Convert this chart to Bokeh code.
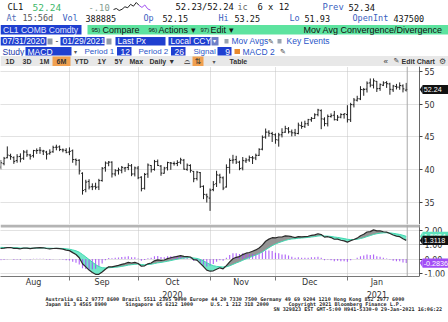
import numpy as np
import pandas as pd
from bokeh.plotting import figure
from bokeh.layouts import column
from bokeh.models import (Range1d, FixedTicker, Label, ColumnDataSource, Span, BoxAnnotation,
                          PolyAnnotation, NumeralTickFormatter)
from bokeh.core.properties import value
from bokeh.embed import file_html
from bokeh.resources import INLINE

# ---------------- data ----------------
holidays = ["2020-09-07", "2020-11-26", "2020-12-25", "2021-01-01", "2021-01-18"]
dates = pd.bdate_range("2020-07-31", "2021-01-29").drop(pd.to_datetime(holidays))

opens = [39.95,
 40.35, 40.88, 41.78, 42.10, 41.80, 41.36, 41.98, 41.70, 42.65, 42.20, 42.10, 42.85, 42.95, 42.80, 42.65, 42.40, 42.70, 43.40, 43.45, 43.00, 42.90,
 42.65, 42.85, 41.50, 41.40, 39.40, 36.90, 38.15, 37.35, 37.40, 37.30, 38.30, 40.25, 40.95, 41.10, 39.30, 39.80, 39.85, 40.20, 40.30, 40.55, 39.30,
 40.20, 38.80, 37.10, 39.30, 40.60, 40.00, 41.20, 40.50, 39.40, 40.25, 41.00, 40.90, 40.90, 41.10, 41.40, 40.00, 40.60, 39.70, 38.60, 39.50, 37.40, 36.10,
 35.60, 36.90, 37.80, 39.10, 38.70, 37.30, 40.30, 41.40, 41.50, 41.10, 40.20, 41.30, 41.45, 41.80, 41.75, 42.15, 43.10, 44.95, 45.70, 45.50,
 45.30, 44.50, 45.30, 45.70, 46.20, 45.75, 45.60, 45.50, 46.70, 46.60, 47.00, 47.60, 47.80, 48.40, 49.00, 47.70, 47.00, 48.10, 48.30, 47.60, 48.00, 48.40,
 48.40, 47.60, 49.90, 50.60, 50.80, 52.20, 52.30, 53.25, 52.90, 53.50, 52.40, 52.90, 53.30, 53.10, 52.20, 52.70, 52.60, 52.80, 52.15]
highs = [40.40,
 41.44, 41.91, 43.52, 42.40, 41.99, 42.33, 42.45, 42.95, 43.00, 42.37, 42.99, 43.21, 43.43, 42.99, 42.84, 43.07, 43.63, 43.78, 43.67, 43.20, 43.24,
 43.37, 43.04, 41.67, 41.55, 39.55, 38.41, 38.49, 37.86, 37.95, 38.55, 40.36, 41.21, 41.28, 41.24, 40.03, 40.27, 40.52, 40.37, 40.95, 40.82, 40.43,
 40.51, 38.95, 39.45, 40.91, 40.65, 41.45, 41.51, 40.66, 40.39, 41.17, 41.13, 41.20, 41.40, 41.78, 41.60, 40.90, 40.78, 39.75, 39.77, 39.60, 37.55, 36.28,
 37.07, 38.20, 39.78, 39.33, 38.92, 40.77, 41.68, 42.23, 42.08, 41.32, 41.89, 41.76, 42.12, 42.05, 42.41, 43.24, 45.20, 46.26, 46.00, 45.75,
 45.52, 45.60, 46.30, 46.68, 46.48, 46.10, 46.20, 47.16, 47.31, 47.46, 47.74, 48.03, 48.59, 49.28, 49.20, 47.98, 48.41, 48.58, 48.96, 48.34, 48.60, 48.58,
 49.83, 50.20, 50.94, 51.28, 52.75, 52.48, 53.48, 53.93, 53.94, 53.54, 53.17, 53.50, 53.52, 53.28, 52.95, 53.10, 53.33, 53.03, 53.25]
lows = [39.52,
 40.00, 40.62, 41.70, 41.47, 40.85, 41.02, 41.08, 41.45, 41.92, 41.50, 41.80, 42.37, 42.39, 42.20, 41.51, 42.26, 42.55, 42.92, 42.80, 42.62, 42.46,
 42.18, 41.01, 40.60, 39.21, 36.13, 36.49, 36.93, 36.82, 36.90, 36.83, 38.11, 39.65, 40.48, 38.75, 38.95, 39.20, 39.40, 39.62, 39.88, 38.96, 38.92,
 38.50, 36.63, 36.90, 38.70, 39.52, 39.80, 40.51, 39.02, 39.35, 39.83, 39.93, 40.58, 40.50, 40.80, 39.95, 39.78, 39.50, 38.03, 38.30, 37.15, 35.44, 34.92,
 33.64, 36.65, 37.30, 37.86, 36.82, 37.21, 39.35, 40.88, 40.82, 39.87, 39.85, 40.98, 41.16, 40.82, 41.42, 42.06, 42.92, 44.70, 45.01, 44.20,
 43.93, 43.48, 44.90, 45.60, 45.50, 45.06, 45.10, 45.37, 46.22, 46.35, 46.65, 47.29, 47.73, 48.13, 46.16, 46.61, 46.58, 47.93, 47.50, 47.42, 47.83, 47.78,
 47.18, 47.26, 49.49, 50.40, 50.62, 51.28, 51.78, 52.58, 52.40, 51.86, 52.04, 52.77, 52.49, 51.44, 51.87, 52.25, 52.20, 51.80, 51.93]
closes = [40.27,
 41.01, 41.70, 42.19, 41.95, 41.22, 41.94, 41.61, 42.67, 42.24, 42.01, 42.89, 42.89, 42.93, 42.82, 42.34, 42.62, 43.35, 43.39, 43.04, 42.97, 42.61,
 42.76, 41.51, 41.37, 39.77, 36.76, 38.05, 37.30, 37.33, 37.26, 38.28, 40.16, 40.97, 41.11, 39.31, 39.80, 39.93, 40.31, 40.25, 40.60, 39.29, 40.22,
 38.72, 37.05, 39.22, 40.67, 39.95, 41.19, 40.60, 39.43, 40.20, 41.04, 40.96, 40.88, 41.06, 41.46, 40.03, 40.64, 39.85, 38.56, 39.57, 37.39, 36.17, 35.79,
 36.81, 37.66, 39.15, 38.79, 37.14, 40.29, 41.36, 41.45, 41.12, 40.13, 41.34, 41.43, 41.82, 41.74, 42.15, 43.06, 44.91, 45.71, 45.53, 45.34,
 44.55, 45.28, 45.64, 46.26, 45.76, 45.60, 45.52, 46.78, 46.57, 46.99, 47.62, 47.82, 48.36, 49.10, 47.74, 47.02, 48.12, 48.23, 47.62, 48.00, 48.40, 48.52,
 47.62, 49.93, 50.63, 50.83, 52.24, 52.25, 53.21, 52.91, 53.57, 52.36, 52.98, 53.24, 53.13, 52.27, 52.77, 52.61, 52.85, 52.34, 52.24]

macd = [0.77, 0.74, 0.76, 0.80, 0.81, 0.75, 0.75, 0.72, 0.77, 0.76, 0.73, 0.77, 0.79, 0.80, 0.79, 0.74, 0.71, 0.74, 0.75, 0.73,
 0.70, 0.63, 0.59, 0.45, 0.32, 0.09, -0.33, -0.55, -0.78, -0.95, -1.08, -1.08, -0.92, -0.72, -0.55, -0.55, -0.50, -0.45, -0.38, -0.32,
 -0.24, -0.28, -0.24, -0.32, -0.51, -0.48, -0.34, -0.28, -0.13, -0.06, -0.10, -0.07, 0.03, 0.09, 0.14, 0.19, 0.24, 0.19, 0.17, 0.14,
 -0.05, -0.08, -0.31, -0.53, -0.78, -0.86, -0.83, -0.72, -0.62, -0.69, -0.47, -0.20, 0.02, 0.12, 0.17, 0.31, 0.41, 0.46, 0.55, 0.64,
 0.78, 0.98, 1.25, 1.40, 1.50, 1.49, 1.55, 1.55, 1.63, 1.61, 1.57, 1.51, 1.58, 1.56, 1.58, 1.60, 1.67, 1.70, 1.78, 1.72,
 1.54, 1.57, 1.51, 1.39, 1.40, 1.32, 1.28, 1.19, 1.29, 1.37, 1.47, 1.64, 1.74, 1.90, 1.93, 2.05, 1.98, 1.98, 1.92, 1.89,
 1.80, 1.69, 1.61, 1.57, 1.43, 1.3118]
signal = [0.84, 0.82, 0.81, 0.81, 0.81, 0.80, 0.79, 0.77, 0.77, 0.77, 0.76, 0.76, 0.77, 0.78, 0.78, 0.77, 0.76, 0.75, 0.75, 0.75,
 0.74, 0.72, 0.69, 0.64, 0.58, 0.48, 0.32, 0.15, -0.04, -0.22, -0.39, -0.53, -0.61, -0.63, -0.62, -0.60, -0.58, -0.56, -0.52, -0.48,
 -0.43, -0.40, -0.37, -0.36, -0.39, -0.41, -0.39, -0.37, -0.32, -0.27, -0.24, -0.20, -0.16, -0.11, -0.06, -0.01, 0.04, 0.07, 0.09, 0.10,
 0.07, 0.04, -0.03, -0.13, -0.26, -0.38, -0.47, -0.52, -0.54, -0.57, -0.55, -0.48, -0.38, -0.28, -0.19, -0.09, 0.01, 0.10, 0.19, 0.28,
 0.38, 0.50, 0.65, 0.80, 0.94, 1.05, 1.15, 1.23, 1.31, 1.37, 1.41, 1.43, 1.46, 1.48, 1.50, 1.52, 1.55, 1.58, 1.62, 1.64,
 1.62, 1.61, 1.59, 1.55, 1.52, 1.48, 1.44, 1.39, 1.37, 1.37, 1.39, 1.44, 1.50, 1.58, 1.65, 1.73, 1.78, 1.82, 1.84, 1.85,
 1.84, 1.81, 1.77, 1.73, 1.67, 1.5954]

assert len(opens) == len(highs) == len(lows) == len(closes) == len(dates) == len(macd) == len(signal)

month_labels = ["Aug", "Sep", "Oct", "Nov", "Dec", "Jan"]
year_labels = ["2020", "2021"]
price_ticks = [35, 40, 45, 50, 55]
macd_ticks = [2.0, 1.0, 0.0, -1.0]
last_price = 52.24

n = len(closes)
idx = np.arange(n)
macd_a = np.array(macd)
sig_a = np.array(signal)
hist = macd_a - sig_a
mon = dates.month
month_start_idx = [i for i in range(1, n) if mon[i] != mon[i - 1]]
bounds = month_start_idx + [n]
centers = [(bounds[k] + bounds[k + 1]) / 2 - 0.5 for k in range(len(month_labels))]
grid_idx = month_start_idx[1:]

SANS = "Liberation Sans"
MONO = "DejaVu Sans Mono"
BLUE_BOX = "#1f3fd0"
LBL = "#2a55c8"

PX = 3.27                    # pixels per trading day
XS0 = 0.917                  # index at left canvas edge
AX = XS0 + 419 / PX          # index where the value axis sits
XS1 = XS0 + 448 / PX         # index at right canvas edge


def bare(fig):
    fig.grid.visible = False
    fig.background_fill_color = "white"
    fig.border_fill_color = "white"


def t(fig, x, y, s, color="#1a1a1a", size=8.5, font=SANS, style="normal", align="left"):
    fig.text(x=[x], y=[y], text=[s], text_color=color, text_font_size=f"{size}px",
             text_font=value(font), text_font_style=style, text_baseline="middle",
             text_align=align)


def box(fig, l, r, tp, b, color):
    fig.quad(left=[l], right=[r], top=[tp], bottom=[b], fill_color=color, line_color=None)


def style_value_axis(ax, ticks):
    ax.ticker = FixedTicker(ticks=ticks)
    ax.fixed_location = AX
    ax.major_label_text_font_size = "8px"
    ax.major_label_text_font = "DejaVu Sans"
    ax.major_label_text_color = "#333"
    ax.major_tick_out = 3
    ax.major_tick_in = 0
    ax.minor_tick_out = 0
    ax.minor_tick_in = 0
    ax.major_label_standoff = 2
    ax.axis_line_color = "#666"
    ax.major_tick_line_color = "#444"


def value_tag(fig, yv, text, bg, ppu):
    """Bloomberg-style value tag on the axis strip (ppu = pixels per y unit)."""
    h = 4.6 / ppu
    x_tip = AX + 0.4 / PX
    x_box = AX + 3.2 / PX
    fig.add_layout(PolyAnnotation(xs=[x_tip, x_box, x_box], ys=[yv, yv + h, yv - h],
                                  fill_color=bg, fill_alpha=1, line_color=None))
    fig.add_layout(BoxAnnotation(left=x_box, right=XS1, top=yv + h, bottom=yv - h,
                                 fill_color=bg, fill_alpha=1, line_color=None))
    fig.add_layout(Label(x=AX + 4.2 / PX, y=yv, text=text, text_font_size="7.2px",
                         text_font="Liberation Sans", text_color="white",
                         text_baseline="middle"))


# ---------------- header ----------------
H = figure(width=448, height=66, x_range=Range1d(0, 448), y_range=Range1d(66, 0),
           x_axis_location=None, y_axis_location=None, output_backend="svg",
           toolbar_location=None, min_border=0, outline_line_color=None)
bare(H)

# row 1
t(H, 7, 6.5, "CL1", "#111", 8.8, MONO)
t(H, 32, 6.5, "52.24", "#3db86a", 9.5, MONO)
t(H, 88, 6.5, "-.10", "#7f9c8e", 8.8, MONO)
spark = [52.28, 52.35, 52.22, 52.30, 52.46, 52.40, 52.62, 52.50, 52.74, 52.55, 52.42, 52.58, 52.33, 52.24]
sp = np.array(spark)
sx = 113 + np.arange(len(sp)) * (37 / (len(sp) - 1))
sy = 10 - (sp - sp.min()) / (sp.max() - sp.min()) * 8
H.line(sx[:10], sy[:10], line_color="#222", line_width=1)
H.line(sx[9:], sy[9:], line_color="#a050f0", line_width=1)
t(H, 175, 6.5, "52.23/52.24", "#111", 8.8, MONO)
t(H, 237, 6.5, "ic", "#666", 8.5, MONO)
t(H, 257, 6.5, "6 x 12", "#111", 8.8, MONO)
t(H, 322, 6.5, "Prev", "#3a5fc0", 8.8, MONO)
t(H, 348, 6.5, "52.34", "#111", 8.8, MONO)
# row 2
for x, s, c in [(6, "At", "#5470b8"), (22, "15:56d", "#555"), (62, "Vol", "#3a5fc0"),
                (85, "388885", "#111"), (143, "Op", "#3a5fc0"), (162, "52.15", "#111"),
                (218, "Hi", "#3a5fc0"), (234, "53.25", "#111"), (289, "Lo", "#3a5fc0"),
                (304, "51.93", "#111"), (352, "OpenInt", "#3a5fc0"), (393, "437500", "#111")]:
    t(H, x, 17.5, s, c, 8.5, MONO)
# row 3
box(H, 0, 81, 24.5, 34, BLUE_BOX)
t(H, 2.5, 29.3, "CL1 COMB Comdty", "#e4e9ff", 8.5)
box(H, 87, 448, 24.5, 34, "#5de39f")
t(H, 91, 29.8, "95)", "#111", 6)
t(H, 102, 29.3, "Compare", "#111", 9)
t(H, 148, 29.8, "96)", "#111", 6)
t(H, 158, 29.3, "Actions \u25be", "#111", 9)
t(H, 200, 29.8, "97)", "#111", 6)
t(H, 210, 29.3, "Edit \u25be", "#111", 9)
t(H, 442, 29.3, "Mov Avg Convergence/Divergence", "#111", 9, align="right")
# row 4
for l, r in [(0, 46), (60, 104), (115, 165), (168, 210)]:
    box(H, l, r, 36.5, 45, BLUE_BOX)
box(H, 211, 218, 36.5, 45, "#6d7fc8")
box(H, 47, 52, 38, 44, "#8f9aa8")
box(H, 106, 111, 38, 44, "#8f9aa8")
t(H, 2, 40.8, "07/31/2020", "#ffffff", 8.5)
t(H, 55, 40.8, "-", "#333", 8.5)
t(H, 62, 40.8, "01/29/2021", "#ffffff", 8.5)
t(H, 117, 40.8, "Last Px", "#ffffff", 8.5)
t(H, 170, 40.8, "Local CCY", "#ffffff", 8.5)
t(H, 212.5, 40.8, "\u25be", "#ffffff", 6)
box(H, 224, 228, 38.5, 43, "#9aa4b0")
t(H, 231, 40.8, "Mov Avgs", LBL, 8.5)
t(H, 267, 40.8, "\u270e", "#333", 7)
box(H, 277, 281, 38.5, 43, "#9aa4b0")
t(H, 286, 40.8, "Key Events", LBL, 8.5)
# row 5
t(H, 2, 51, "Study", "#1e3aa8", 8.5)
box(H, 25, 71, 46.5, 55, BLUE_BOX)
t(H, 27, 51, "MACD", "#ffffff", 8.5)
t(H, 73, 51, "\u25be", "#555", 6)
t(H, 84, 51, "Period 1", LBL, 8)
box(H, 116.5, 131, 46.5, 55, BLUE_BOX)
t(H, 129.5, 51, "12", "#ffffff", 8.5, align="right")
t(H, 138, 51, "Period 2", LBL, 8)
box(H, 170.5, 185, 46.5, 55, BLUE_BOX)
t(H, 183.5, 51, "26", "#ffffff", 8.5, align="right")
t(H, 193, 51, "Signal", LBL, 8)
box(H, 217, 231, 46.5, 55, BLUE_BOX)
t(H, 229.5, 51, "9", "#ffffff", 8.5, align="right")
box(H, 234, 239.5, 48.5, 53.5, "#e8892c")
t(H, 242, 51, "MACD 2", LBL, 8.5)
t(H, 279, 51, "\u270e", "#333", 7)
# row 6
box(H, 0, 448, 55.5, 66, "#e8e8e8")
box(H, 52, 70, 56, 65.5, "#f0a050")
box(H, 192, 203, 56, 65.5, "#f0a050")
for x, s in [(5, "1D"), (22, "3D"), (39, "1M"), (56, "6M"), (74, "YTD"), (97, "1Y"),
             (114, "5Y"), (129, "Max"), (149, "Daily \u25bc"), (229, "Table"),
             (401, "Edit Chart")]:
    t(H, x, 60.8, s, "#333", 7, style="bold")
t(H, 183, 60.8, "\u2313", "#555", 8, font="DejaVu Sans")
t(H, 194, 60.8, "\u21c5", "#333", 8, font="DejaVu Sans")
t(H, 212, 60.8, "\u25be", "#555", 6, font="DejaVu Sans")
t(H, 383, 60.8, "\u00ab", "#333", 8)
t(H, 393, 60.8, "\u270e", "#333", 7, font="DejaVu Sans")
t(H, 438.5, 60.8, "\u2699", "#444", 8, font="DejaVu Sans")

# ---------------- price panel ----------------
P = figure(width=448, height=158, x_range=Range1d(XS0, XS1), y_range=Range1d(31.552, 55.766),
           y_axis_location="right", x_axis_location=None, output_backend="svg",
           toolbar_location=None, min_border=0, outline_line_color=None)
P.background_fill_color = "white"
P.border_fill_color = "white"
P.xgrid.ticker = FixedTicker(ticks=grid_idx)
P.ygrid.ticker = FixedTicker(ticks=price_ticks)
for g in (P.xgrid, P.ygrid):
    g.grid_line_color = "#c4c4c4"
    g.grid_line_dash = "1 1"
style_value_axis(P.yaxis[0], price_ticks)
P.quad(left=[AX], right=[XS1], top=[P.y_range.end], bottom=[P.y_range.start],
       fill_color="white", line_color=None)

src = ColumnDataSource(dict(x=idx, o=opens, h=highs, l=lows, c=closes,
                            xl=idx - 0.42, xr=idx + 0.42))
bar_col = "#1e1e1e"
P.segment(x0="x", y0="l", x1="x", y1="h", source=src, line_color=bar_col, line_width=1)
P.segment(x0="xl", y0="o", x1="x", y1="o", source=src, line_color=bar_col, line_width=1)
P.segment(x0="x", y0="c", x1="xr", y1="c", source=src, line_color=bar_col, line_width=1)
P.add_layout(Span(location=n - 1 + 0.3, dimension="height", line_color="#a8a8a8", line_width=1))
value_tag(P, last_price, f"{last_price:.2f}", "#111111", 6.525)

# ---------------- MACD panel ----------------
M = figure(width=448, height=65, x_range=P.x_range, y_range=Range1d(-1.232, 2.43),
           y_axis_location="right", x_axis_location="below", output_backend="svg",
           toolbar_location=None, min_border=0, outline_line_color=None)
M.background_fill_color = "white"
M.border_fill_color = "white"
M.xgrid.ticker = FixedTicker(ticks=grid_idx)
M.ygrid.ticker = FixedTicker(ticks=macd_ticks)
for g in (M.xgrid, M.ygrid):
    g.grid_line_color = "#c4c4c4"
    g.grid_line_dash = "1 1"
my = M.yaxis[0]
style_value_axis(my, macd_ticks)
my.formatter = NumeralTickFormatter(format="0.00")
M.quad(left=[AX], right=[XS1], top=[M.y_range.end], bottom=[M.y_range.start],
       fill_color="white", line_color=None)

mx = M.xaxis[0]
mx.ticker = FixedTicker(ticks=centers, minor_ticks=grid_idx)
mx.bounds = (XS0, AX)
mx.major_label_overrides = {c: lab for c, lab in zip(centers, month_labels)}
mx.major_tick_out = 0
mx.major_tick_in = 0
mx.minor_tick_out = 4
mx.minor_tick_in = 0
mx.major_label_standoff = -3
mx.major_label_text_font_size = "8px"
mx.major_label_text_font = "DejaVu Sans"
mx.major_label_text_color = "#333"
mx.axis_line_color = "#777"
mx.minor_tick_line_color = "#777"

top_env = np.maximum(macd_a, sig_a)
msrc = ColumnDataSource(dict(x=idx, macd=macd_a, sig=sig_a, hist=hist, env=top_env))
M.varea(x="x", y1="macd", y2="env", source=msrc, fill_color="#62e6c2", fill_alpha=0.9)
M.varea(x="x", y1="sig", y2="env", source=msrc, fill_color="#8a8a8a", fill_alpha=0.9)
M.vbar(x="x", top="hist", bottom=0, width=0.35, source=msrc, fill_color="#a24cf6",
       line_color=None, fill_alpha=0.85)
M.line(x="x", y="sig", source=msrc, line_color="#3fd8b0", line_width=1)
M.line(x="x", y="macd", source=msrc, line_color="#2b2b2b", line_width=1.2)
M.add_layout(BoxAnnotation(bottom=2.218, right=AX, fill_color="#b4b4b4", fill_alpha=1,
                           line_color=None))
M.add_layout(Span(location=n - 1 + 0.3, dimension="height", line_color="#a8a8a8", line_width=1))
value_tag(M, signal[-1], f"{signal[-1]:.4f}", "#5ee4bd", 14.2)
value_tag(M, macd[-1], f"{macd[-1]:.4f}", "#111111", 14.2)
value_tag(M, float(hist[-1]), f"{float(hist[-1]):.4f}", "#a24cf6", 14.2)

# ---------------- footer ----------------
FT = 289
F = figure(width=448, height=322 - FT, x_range=Range1d(0, 448), y_range=Range1d(322, FT),
           x_axis_location=None, y_axis_location=None, output_backend="svg",
           toolbar_location=None, min_border=0, outline_line_color=None)
bare(F)
for c, yl in zip([centers[2], centers[5]], year_labels):
    t(F, (c - XS0) * PX, 293.5, yl, "#333", 8, font="DejaVu Sans", align="center")
FS = 5.1
FC = "#2a2a2a"
t(F, 45, 298.5, "Australia 61 2 9777 8600 Brazil 5511 2395 9000 Europe 44 20 7330 7500 Germany 49 69 9204 1210 Hong Kong 852 2977 6000", FC, FS, MONO, "bold")
t(F, 45, 303.5, "Japan 81 3 4565 8900", FC, FS, MONO, "bold")
t(F, 125, 303.5, "Singapore 65 6212 1000", FC, FS, MONO, "bold")
t(F, 210, 303.5, "U.S. 1 212 318 2000", FC, FS, MONO, "bold")
t(F, 288, 303.5, "Copyright 2021 Bloomberg Finance L.P.", FC, FS, MONO, "bold")
t(F, 273, 308.5, "SN 329823 EST  GMT-5:00 H941-5330-0 29-Jan-2021 16:06:22", FC, FS, MONO, "bold")

layout = column(H, P, M, F, spacing=0)
open("out.html", "w").write(file_html(layout, INLINE))
